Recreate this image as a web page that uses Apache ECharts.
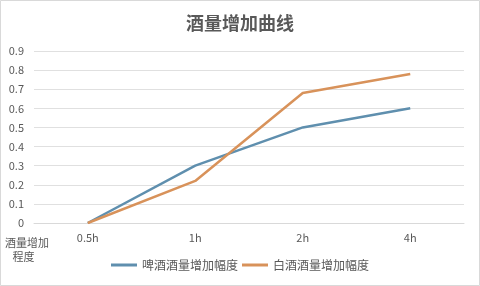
<!DOCTYPE html>
<html><head><meta charset="utf-8">
<script src="https://cdn.jsdelivr.net/npm/echarts@6/dist/echarts.min.js"></script>
<style>html,body{margin:0;padding:0;background:#fff}#c{width:480px;height:286px}</style>
</head><body><div id="c"></div>
<script>
const categories = ['0.5h', '1h', '2h', '4h'];
const beer = [0, 0.30, 0.50, 0.60];
const baijiu = [0, 0.22, 0.68, 0.78];
const seriesNames = ['啤酒酒量增加幅度', '白酒酒量增加幅度'];
const yTicks = { min: 0, max: 0.9, interval: 0.1 };

const chart = echarts.init(document.getElementById('c'), null, { renderer: 'canvas' });
const font = '"Noto Sans CJK SC", "Noto Sans", sans-serif';
chart.setOption({
  animation: false,
  backgroundColor: '#fff',
  title: {
    text: '酒量增加曲线', left: 'center', top: 9,
    textStyle: { fontFamily: font, fontSize: 18, fontWeight: 'bold', color: '#595959' }
  },
  legend: {
    bottom: 10, left: 'center', itemWidth: 26, itemHeight: 3, itemGap: 4,
    icon: 'rect',
    textStyle: { fontFamily: font, fontSize: 12, color: '#595959' },
    data: seriesNames
  },
  grid: { left: 34, right: 16, top: 51, bottom: 63 },
  xAxis: {
    type: 'category', data: categories, boundaryGap: true,
    axisLine: { lineStyle: { color: '#d9d9d9' } },
    axisTick: { show: false },
    axisLabel: { fontFamily: font, fontSize: 11, color: '#595959', margin: 9 }
  },
  yAxis: {
    type: 'value', min: yTicks.min, max: yTicks.max, interval: yTicks.interval,
    axisLine: { show: false }, axisTick: { show: false },
    axisLabel: { fontFamily: font, fontSize: 11, color: '#595959', margin: 10,
      formatter: v => String(Math.round(v * 10) / 10) },
    splitLine: { lineStyle: { color: '#e0e0e0' } }
  },
  graphic: [
    { type: 'rect', shape: { x: 0.5, y: 0.5, width: 479, height: 285 },
      style: { fill: 'none', stroke: '#d9d9d9', lineWidth: 1 } },
    { type: 'text', left: 5, top: 236,
      style: { text: '酒量增加\n   程度', fontFamily: font, fontSize: 11, fill: '#595959', lineHeight: 14 } }
  ],
  series: [
    { name: seriesNames[0], type: 'line', data: beer, symbol: 'none',
      lineStyle: { width: 2.5, color: '#5f8fae' }, itemStyle: { color: '#5f8fae' } },
    { name: seriesNames[1], type: 'line', data: baijiu, symbol: 'none',
      lineStyle: { width: 2.5, color: '#d8925a' }, itemStyle: { color: '#d8925a' } }
  ]
});
</script></body></html>
